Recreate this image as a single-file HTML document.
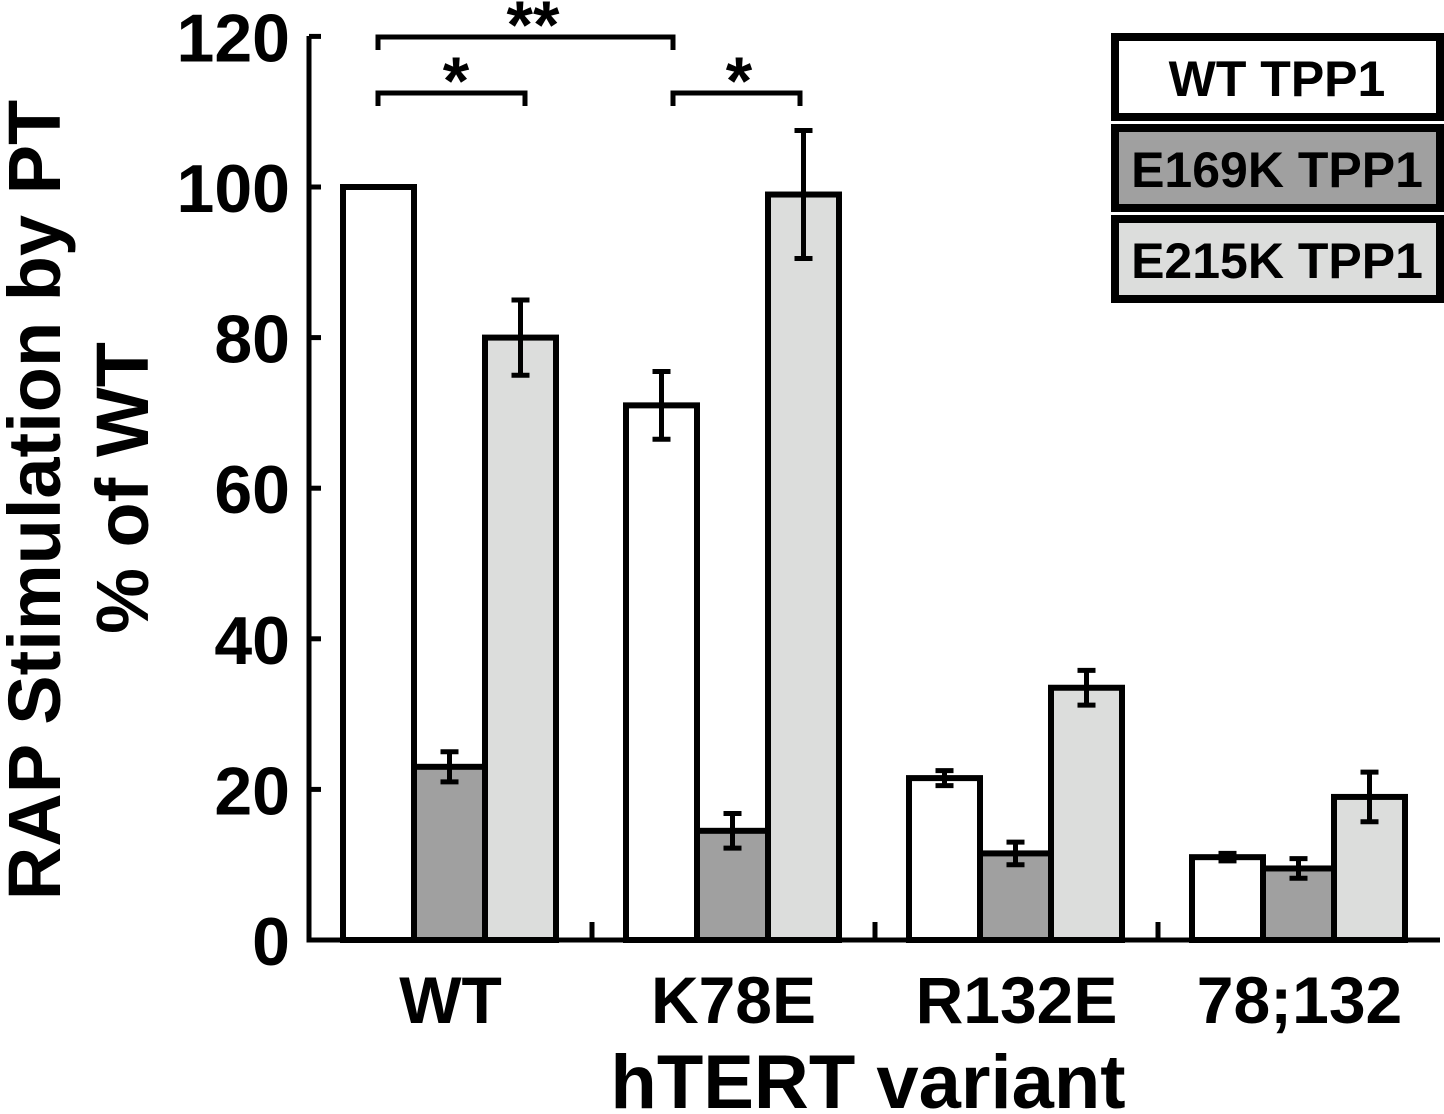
<!DOCTYPE html>
<html><head><meta charset="utf-8"><style>
body{margin:0;background:#fff;}
svg{display:block;font-family:"Liberation Sans",Arial,sans-serif;font-weight:bold;}
</style></head><body>
<svg id="chart" width="1444" height="1114" viewBox="0 0 1444 1114">
<g id="bars"></g>
<g id="axes"></g>
</svg>
<script>
const categories=["WT","K78E","R132E","78;132"];
const seriesNames=["WT TPP1","E169K TPP1","E215K TPP1"];
const wtVals=[100,71,21.5,11];
const e169Vals=[23,14.5,11.5,9.5];
const e215Vals=[80,99,33.5,19];
const wtErr=[0,4.5,1,0.5];
const e169Err=[2,2.3,1.5,1.3];
const e215Err=[5,8.5,2.3,3.3];
const yTicks=[0,20,40,60,80,100,120];
const fills=["#ffffff","#a0a0a0","#dcdddc"];
const NS="http://www.w3.org/2000/svg";
const bars=document.getElementById('bars');
const axes=document.getElementById('axes');
const x0=309,catW=283,barW=71,barOff=34;
function y(v){return 940-v*7.53;}
function xCat(i){return x0+i*catW;}
function mk(tag,attrs,parent){const e=document.createElementNS(NS,tag);for(const k in attrs)e.setAttribute(k,attrs[k]);parent.appendChild(e);return e;}
const series=[wtVals,e169Vals,e215Vals],errs=[wtErr,e169Err,e215Err];
series.forEach((vals,s)=>{vals.forEach((v,i)=>{
  const bx=xCat(i)+barOff+s*barW;
  const r=mk('rect',{x:bx,y:y(v),width:barW,height:940-y(v),fill:fills[s],stroke:'#000','stroke-width':6},bars);
  
  
  const e=errs[s][i];
  if(e>0){const cx=bx+barW/2;
    const g=mk('path',{d:`M${cx},${y(v+e)}V${y(v-e)}M${cx-9},${y(v+e)}H${cx+9}M${cx-9},${y(v-e)}H${cx+9}`,stroke:'#000','stroke-width':5,fill:'none'},bars);
    
    }
});});
mk('path',{d:`M${x0},36V940H1440`,stroke:'#000','stroke-width':5,fill:'none'},axes);
yTicks.forEach(t=>{
  mk('line',{x1:x0,x2:x0+12,y1:y(t),y2:y(t),stroke:'#000','stroke-width':5},axes);
  const tx=mk('text',{x:290,y:y(t)+25,'text-anchor':'end','font-size':68},axes);
  tx.textContent=t;
  
  
});
categories.forEach((c,i)=>{
  if(i>0)mk('line',{x1:xCat(i),x2:xCat(i),y1:940,y2:922,stroke:'#000','stroke-width':5},axes);
  const tx=mk('text',{x:xCat(i)+catW/2,y:1023,'text-anchor':'middle','font-size':66},axes);
  tx.textContent=c;
  
  
});
</script>
<svg style="position:absolute;left:0;top:0" width="1444" height="1114">
<text x="868" y="1108" text-anchor="middle" font-size="76">hTERT variant</text>
<text transform="translate(60,500) rotate(-90)" text-anchor="middle" font-size="74">RAP Stimulation by PT</text>
<text transform="translate(148,488) rotate(-90)" text-anchor="middle" font-size="74">% of WT</text>
<g stroke="#000" stroke-width="5" fill="none">
<path d="M378,50V37H673V50M378,106V93H525V106M673,106V93H800V106"/>
</g>
<text x="533" y="48" text-anchor="middle" font-size="68">**</text>
<text x="456" y="104" text-anchor="middle" font-size="68">*</text>
<text x="739" y="104" text-anchor="middle" font-size="68">*</text>
<g font-size="50">
<rect x="1115" y="37" width="325" height="80" fill="#fff" stroke="#000" stroke-width="8"/>
<text x="1277" y="96" text-anchor="middle">WT TPP1</text>
<rect x="1115" y="128" width="325" height="80" fill="#a0a0a0" stroke="#000" stroke-width="8"/>
<text x="1277" y="187" text-anchor="middle">E169K TPP1</text>
<rect x="1115" y="219" width="325" height="80" fill="#dcdddc" stroke="#000" stroke-width="8"/>
<text x="1277" y="278" text-anchor="middle">E215K TPP1</text>
</g>
</svg>
</body></html>
